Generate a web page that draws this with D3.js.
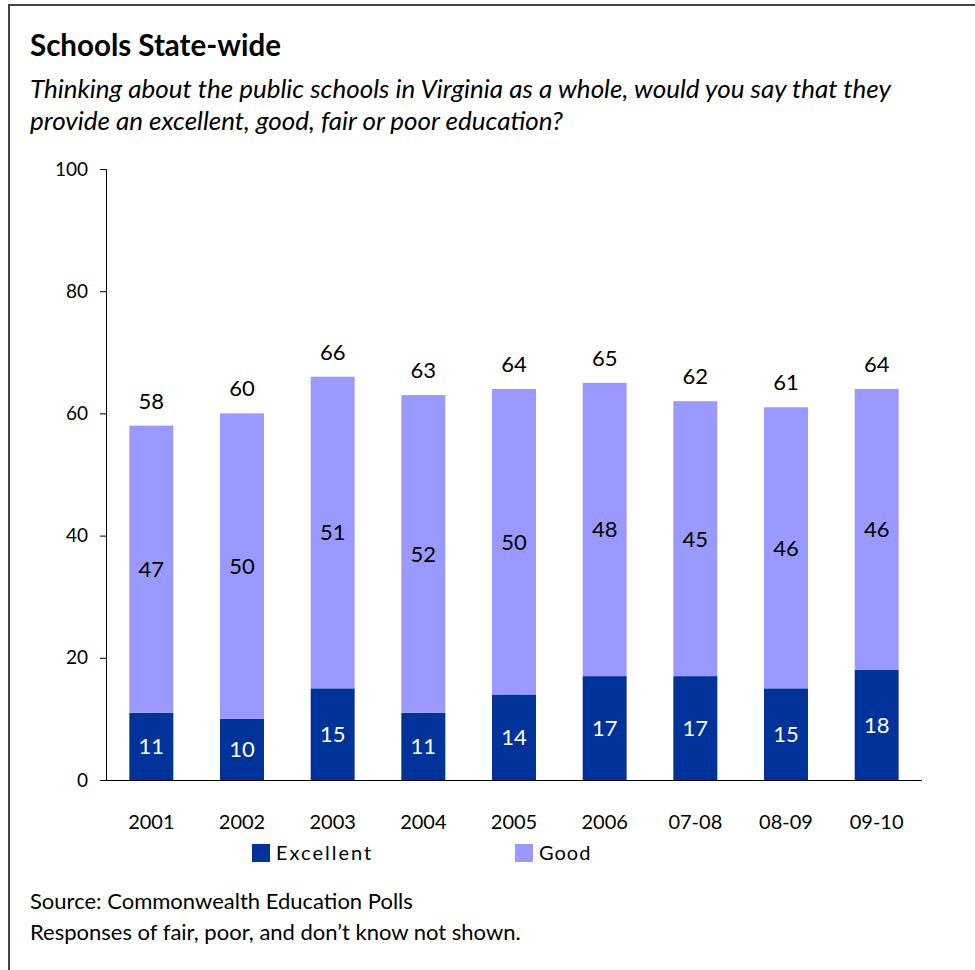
<!DOCTYPE html>
<html>
<head>
<meta charset="utf-8">
<script src="https://cdn.jsdelivr.net/npm/d3@7"></script>
<style>
  html, body { margin: 0; padding: 0; background: #fff; }
  svg { display: block; }
  text { font-family: Lato, "Open Sans", sans-serif; fill: #000; }
</style>
</head>
<body>
<svg id="chart" width="975" height="970"></svg>
<script>
// Survey waves and shares of respondents (percent)
const years = ["2001", "2002", "2003", "2004", "2005", "2006", "07-08", "08-09", "09-10"];
const excellent = [11, 10, 15, 11, 14, 17, 17, 15, 18];
const good = [47, 50, 51, 52, 50, 48, 45, 46, 46];
const totals = [58, 60, 66, 63, 64, 65, 62, 61, 64];
const yTicks = [0, 20, 40, 60, 80, 100];
const seriesNames = ["Excellent", "Good"];
const colors = { Excellent: "#003399", Good: "#9999ff" };

const svg = d3.select("#chart");

// Frame around the chart
svg.append("path")
  .attr("d", "M9,970 V5 H975")
  .attr("fill", "none")
  .attr("stroke", "#444")
  .attr("stroke-width", 2);

// Title and question wording
svg.append("text")
  .attr("x", 30).attr("y", 56)
  .attr("font-size", 29.5).attr("font-weight", "bold")
  .text("Schools State-wide");

const question = [
  "Thinking about the public schools in Virginia as a whole, would you say that they",
  "provide an excellent, good, fair or poor education?"
];
svg.selectAll("text.question")
  .data(question)
  .join("text")
  .attr("class", "question")
  .attr("x", 30)
  .attr("y", (d, i) => 98 + i * 32)
  .attr("font-size", 26)
  .attr("font-style", "italic")
  .text(d => d);

// Scales
const x = d3.scaleBand().domain(years).range([106, 922]).paddingInner(0.515).paddingOuter(0.2575);
const y = d3.scaleLinear().domain([0, 100]).range([780, 169]);

// Stack the two series
const rows = years.map((yr, i) => ({ year: yr, Excellent: excellent[i], Good: good[i] }));
const stacked = d3.stack().keys(seriesNames)(rows);

const layers = svg.append("g").selectAll("g")
  .data(stacked)
  .join("g")
  .attr("fill", d => colors[d.key]);

layers.selectAll("rect")
  .data(d => d)
  .join("rect")
  .attr("x", d => x(d.data.year))
  .attr("width", x.bandwidth())
  .attr("y", d => y(d[1]))
  .attr("height", d => y(d[0]) - y(d[1]));

// Segment value labels
layers.selectAll("text")
  .data(d => d.map(v => ({ v, key: d.key })))
  .join("text")
  .attr("x", d => x(d.v.data.year) + x.bandwidth() / 2)
  .attr("y", d => (y(d.v[0]) + y(d.v[1])) / 2)
  .attr("dy", "0.36em")
  .attr("text-anchor", "middle")
  .attr("font-size", 22)
  .style("fill", d => d.key === "Excellent" ? "#fff" : "#000")
  .text(d => d.v[1] - d.v[0]);

// Totals above bars
svg.append("g").selectAll("text")
  .data(years)
  .join("text")
  .attr("x", d => x(d) + x.bandwidth() / 2)
  .attr("y", (d, i) => y(totals[i]) - 25)
  .attr("dy", "0.36em")
  .attr("text-anchor", "middle")
  .attr("font-size", 22)
  .text((d, i) => totals[i]);

// Y axis
const yAxis = svg.append("g")
  .attr("transform", "translate(106,0)")
  .call(d3.axisLeft(y).tickValues(yTicks).tickSize(6).tickPadding(12));
yAxis.selectAll("path, line").attr("stroke", "#000");
yAxis.selectAll("text").attr("font-size", 19).attr("font-family", "Lato, sans-serif").attr("fill", "#000");

// X axis
const xAxis = svg.append("g")
  .attr("transform", "translate(0,780)")
  .call(d3.axisBottom(x).tickSize(0).tickPadding(35));
xAxis.select("path").attr("d", "M100,0.5H922").attr("stroke", "#000");
xAxis.selectAll("text").attr("font-size", 20).attr("font-family", "Lato, sans-serif").attr("fill", "#000");

// Legend
const legendX = [252, 515];
const legend = svg.append("g").selectAll("g")
  .data(seriesNames)
  .join("g")
  .attr("transform", (d, i) => `translate(${legendX[i]},844)`);
legend.append("rect")
  .attr("width", 18).attr("height", 18)
  .attr("fill", d => colors[d]);
legend.append("text")
  .attr("x", 24).attr("y", 9)
  .attr("dy", "0.36em")
  .attr("font-size", 20)
  .attr("letter-spacing", d => d === "Excellent" ? 2 : 1)
  .text(d => d);

// Notes
const notes = [
  "Source: Commonwealth Education Polls",
  "Responses of fair, poor, and don\u2019t know not shown."
];
svg.selectAll("text.note")
  .data(notes)
  .join("text")
  .attr("class", "note")
  .attr("x", 30)
  .attr("y", (d, i) => 909 + i * 31)
  .attr("font-size", 22)
  .text(d => d);
</script>
</body>
</html>
